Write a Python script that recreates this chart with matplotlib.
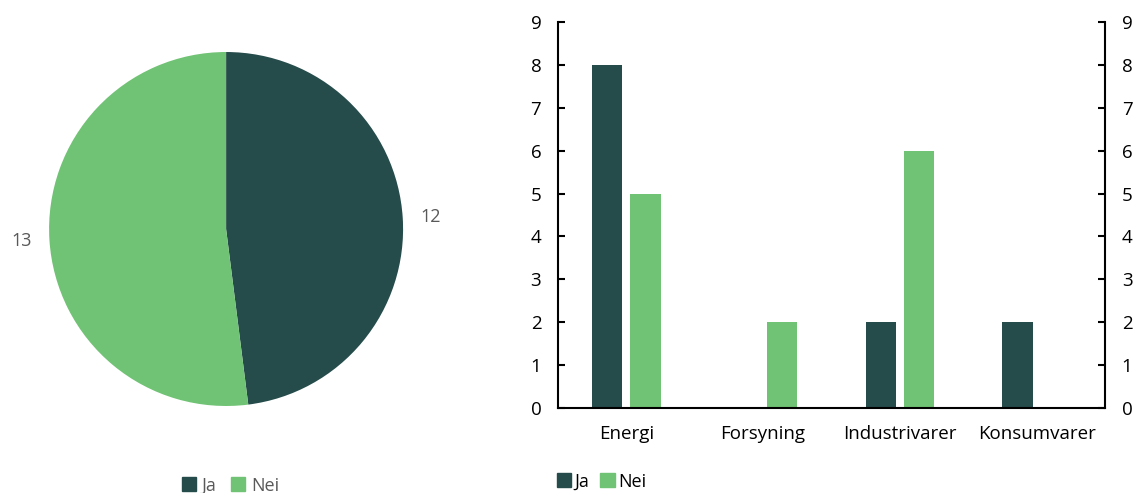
import matplotlib.pyplot as plt
import numpy as np
from matplotlib.patches import Patch

plt.rcParams['font.family'] = ['Open Sans', 'DejaVu Sans']

# Data
pie_labels = ['Ja', 'Nei']
pie_values = [12, 13]

sectors = ['Energi', 'Forsyning', 'Industrivarer', 'Konsumvarer']
ja_counts = [8, 0, 2, 2]
nei_counts = [5, 2, 6, 0]

dark = '#254b4a'
light = '#70c274'
grey = '#595959'

fig = plt.figure(figsize=(11.35, 4.93), dpi=100)

# Pie chart
ax1 = fig.add_axes([0.0432, 0.1765, 0.312, 0.718])
ax1.pie(pie_values, colors=[dark, light], startangle=90, counterclock=False,
        labels=[str(v) for v in pie_values], labeldistance=1.1,
        textprops={'color': grey, 'fontsize': 13})
ax1.set_xlim(-1, 1)
ax1.set_ylim(-1, 1)
ax1.set_aspect('equal')
fig.legend(handles=[Patch(color=dark, label='Ja'), Patch(color=light, label='Nei')],
           loc='center', bbox_to_anchor=(0.203, 0.015), ncol=2, frameon=False,
           fontsize=13, labelcolor=grey, handlelength=0.8, handleheight=0.8,
           handletextpad=0.3, columnspacing=0.8)

# Bar chart
ax2 = fig.add_axes([0.4916, 0.1724, 0.482, 0.783])
x = np.arange(len(sectors))
w = 0.22
ax2.bar(x - 0.14, ja_counts, w, color=dark, label='Ja')
ax2.bar(x + 0.14, nei_counts, w, color=light, label='Nei')
ax2.set_xlim(-0.5, 3.5)
ax2.set_ylim(0, 9)
ax2.set_yticks(range(10))
ax2.set_xticks(x)
ax2.set_xticklabels(sectors)
ax2.spines['top'].set_visible(False)
for s in ['left', 'right', 'bottom']:
    ax2.spines[s].set_linewidth(1.5)
ax2.tick_params(axis='x', length=0, labelsize=13.5, pad=12)
ax2.tick_params(axis='y', direction='in', length=5, width=1.5, labelsize=13.5, pad=12,
                left=True, right=True, labelleft=True, labelright=True)
fig.legend(handles=[Patch(color=dark, label='Ja'), Patch(color=light, label='Nei')],
           loc='center left', bbox_to_anchor=(0.476, 0.023), ncol=2, frameon=False,
           fontsize=13, handlelength=0.8, handleheight=0.8,
           handletextpad=0.2, columnspacing=0.6)

fig.savefig('out.png', dpi=100)
